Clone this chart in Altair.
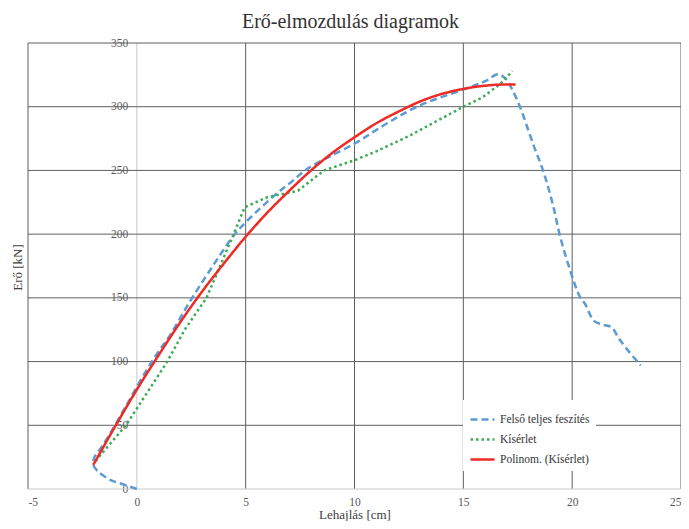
import altair as alt
import pandas as pd

series_names = ["Felső teljes feszítés", "Kísérlet", "Polinom. (Kísérlet)"]
series_colors = ["#5B9BD5", "#3DAA55", "#EE2A24"]
series_dash = [[7, 4], [2.5, 3], [1, 0]]

blue_x = [0, -0.6, -1.2, -1.8, -2.0, -1.95, -1.7, -1.35, -0.5, 0.4, 1.0, 1.5, 2.4, 3.45, 4.5, 5.1,
          6.3, 7.1, 7.9, 10, 11.5, 13, 15, 16.0, 16.6, 17.0, 17.2, 17.6, 18.2, 18.7, 19.1, 19.45,
          19.9, 20.35, 20.6, 21.0, 21.4, 21.8, 22.15, 22.6, 23.15]
blue_y = [0, 3.5, 7, 14, 19, 25, 31, 40, 65, 92, 108, 120, 146, 174, 200, 211,
          230, 241, 252, 271, 287, 301, 313.5, 320, 325.5, 321, 315, 300, 271, 248, 224, 198,
          172, 151, 145, 132, 129, 127, 118, 108, 97]

green_x = [-1.9, -0.5, 1.4, 2.2, 3.2, 4.45, 4.95, 6.0, 7.4, 8.6, 10, 11, 12.5, 15, 15.85, 16.7, 17.25]
green_y = [22, 50, 100, 125, 150, 200, 221, 229, 234, 250, 258, 265, 277, 300, 307, 318, 328]

red_x = [-2, -1, 0, 1, 2, 3, 4, 5, 6, 7, 8, 9, 10, 11, 12, 13, 14, 15, 16, 17, 17.4]
red_y = [19, 49, 78, 105, 131, 155, 177, 198, 217, 234, 250, 264, 276, 287, 296, 304, 310, 314, 316.5, 317.5, 317.5]

x_ticks = [-5, 0, 5, 10, 15, 20, 25]
y_ticks = [0, 50, 100, 150, 200, 250, 300, 350]

rows = []
for name, xs, ys in zip(series_names, [blue_x, green_x, red_x], [blue_y, green_y, red_y]):
    for i, (x, y) in enumerate(zip(xs, ys)):
        rows.append({"s": name, "x": x, "y": y, "i": i})
df = pd.DataFrame(rows)

FONT = "Liberation Serif"
W, H = 653, 446
xscale = alt.Scale(domain=[-5, 25], nice=False, zero=False)
yscale = alt.Scale(domain=[0, 350], nice=False, zero=False)

grid_dark = "#5F5F5F"
grid_light = "#C8C8C8"

xaxis = alt.Axis(values=x_ticks, grid=False, domain=False, ticks=False, labelPadding=7,
                 labelFont=FONT, labelFontSize=11.5, labelColor="#595959",
                 labelExpr="'' + datum.value", title="Lehajlás [cm]", titleFont=FONT,
                 titleFontSize=13, titleFontWeight="normal", titleColor="#404040", titlePadding=1)
yaxis = alt.Axis(values=y_ticks, grid=False, domain=False, ticks=False, offset=-W / 6,
                 labelPadding=9, labelFont=FONT, labelFontSize=11.5, labelColor="#595959",
                 title="Erő [kN]", titleFont=FONT, titleFontSize=13, titleFontWeight="normal",
                 titleColor="#404040", titleX=-119, titleY=224, titleAngle=-90,
                 titleAlign="center", titleBaseline="middle")

vgrid = alt.Chart(pd.DataFrame({"v": x_ticks})).mark_rule(strokeWidth=1).encode(
    x=alt.X("v:Q", scale=xscale, axis=xaxis),
    color=alt.condition(alt.datum.v == 0, alt.value(grid_light), alt.value(grid_dark)),
)
hgrid = alt.Chart(pd.DataFrame({"v": y_ticks})).mark_rule(strokeWidth=1).encode(
    y=alt.Y("v:Q", scale=yscale, axis=yaxis),
    color=alt.condition(alt.datum.v == 0, alt.value(grid_light), alt.value(grid_dark)),
)

legend = alt.Legend(
    title=None, orient="none", legendX=435, legendY=357, fillColor="white", padding=6,
    symbolType="stroke", symbolSize=576, symbolStrokeWidth=2.5, labelFont=FONT,
    labelFontSize=11.5, labelColor="#333333", labelOffset=4, rowPadding=1,
)

enc = dict(
    x=alt.X("x:Q", scale=xscale, axis=xaxis),
    y=alt.Y("y:Q", scale=yscale, axis=yaxis),
    order=alt.Order("i:Q"),
    color=alt.Color("s:N", scale=alt.Scale(domain=series_names, range=series_colors), legend=legend),
    strokeDash=alt.StrokeDash("s:N", scale=alt.Scale(domain=series_names, range=series_dash), legend=legend),
)

base = alt.Chart(df)
blue = base.transform_filter(alt.datum.s == series_names[0]).mark_line(
    strokeWidth=2.5, interpolate="catmull-rom").encode(**enc)
green = base.transform_filter(alt.datum.s == series_names[1]).mark_line(
    strokeWidth=2.5).encode(**enc)
red = base.transform_filter(alt.datum.s == series_names[2]).mark_line(
    strokeWidth=2.5, interpolate="monotone").encode(**enc)

chart = alt.layer(vgrid, hgrid, blue, green, red).properties(
    width=W, height=H,
    title=alt.TitleParams("Erő-elmozdulás diagramok", font=FONT, fontSize=20, fontWeight="normal",
                          color="#333333", anchor="middle", frame="group", baseline="bottom",
                          offset=10, dx=-4, dy=25),
    autosize=alt.AutoSizeParams(type="none"),
    padding={"left": 20, "top": 35, "right": 0, "bottom": 32},
).configure_view(stroke=None)

chart.save("out.html", embed_options={"renderer": "svg", "actions": False})
